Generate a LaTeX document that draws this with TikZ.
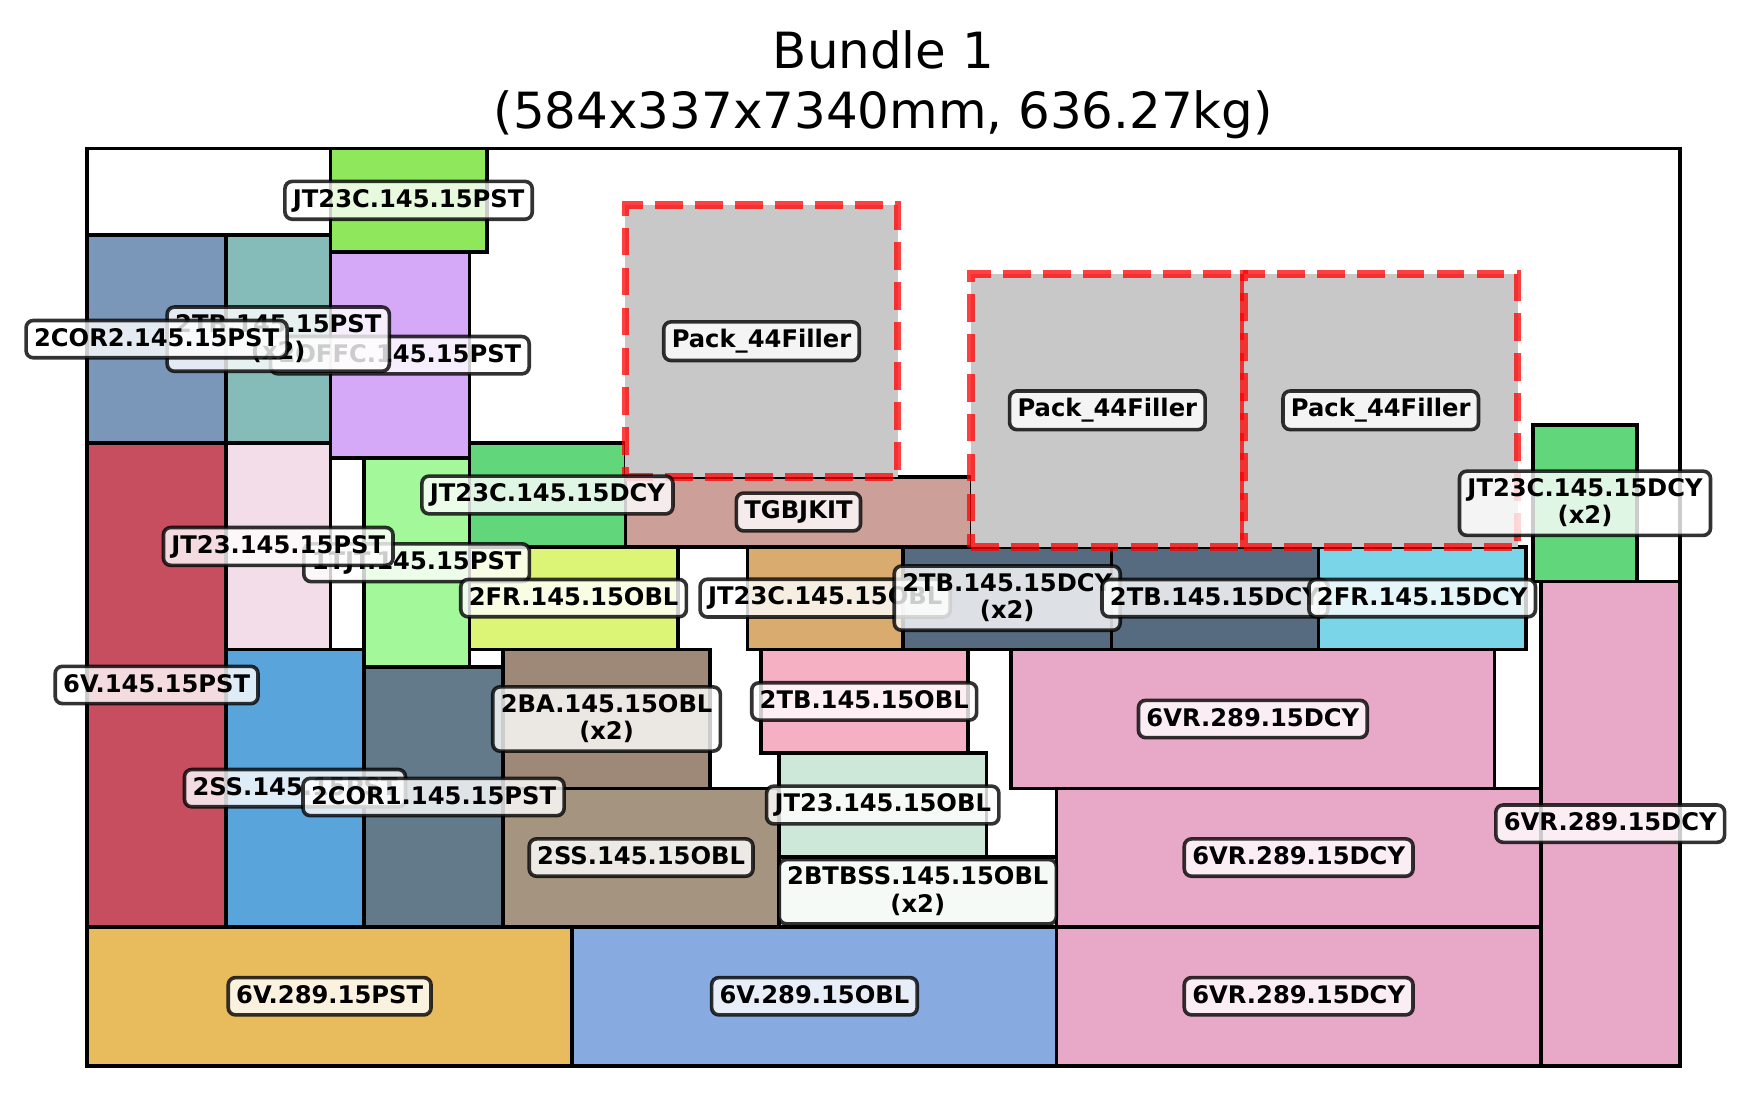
\documentclass[tikz,border=0pt]{standalone}
\usepackage{fontspec}
\setmainfont{DejaVu Sans}
\usepackage{xcolor}
\usepackage{tikz}
\usetikzlibrary{fit}
\definecolor{lime}{RGB}{143,232,92}
\definecolor{denim}{RGB}{122,150,185}
\definecolor{teal}{RGB}{133,187,184}
\definecolor{lavender}{RGB}{213,169,247}
\definecolor{crimson}{RGB}{198,78,95}
\definecolor{blush}{RGB}{242,221,232}
\definecolor{palegreen}{RGB}{163,248,154}
\definecolor{leaf}{RGB}{98,214,123}
\definecolor{rose}{RGB}{204,159,152}
\definecolor{lemon}{RGB}{220,245,118}
\definecolor{tan}{RGB}{217,171,111}
\definecolor{slate}{RGB}{86,107,128}
\definecolor{sky}{RGB}{122,213,232}
\definecolor{orchid}{RGB}{232,169,200}
\definecolor{azure}{RGB}{90,164,220}
\definecolor{steel}{RGB}{98,122,137}
\definecolor{cocoa}{RGB}{158,136,119}
\definecolor{taupe}{RGB}{165,148,128}
\definecolor{salmonpink}{RGB}{246,176,195}
\definecolor{mint}{RGB}{205,231,217}
\definecolor{amber}{RGB}{232,188,93}
\definecolor{cornflower}{RGB}{135,171,224}
\definecolor{fillgray}{RGB}{200,200,200}

\newcommand{\tagfont}{\fontsize{10}{11.3}\selectfont\bfseries\lineskiplimit=-\maxdimen}
\newcommand{\tagstrut}{\rule[-1.8pt]{0pt}{9.4pt}}

\begin{document}
\begin{tikzpicture}[
    x=0.039584cm, y=0.03951cm,
    % Box styles
    crate/.style={draw=black, line width=1.5pt, inner sep=0pt},
    filler/.style={fill=fillgray, draw=red, draw opacity=0.75, line width=3.2pt, dash pattern=on 11.5pt off 5pt, inner sep=0pt},
    frame/.style={draw=black, line width=1.5pt},
    % Label styles
    tag/.style={fill=white, fill opacity=0.8, text opacity=1, draw=black, draw opacity=0.8, line width=1.5pt, rounded corners=3pt, inner xsep=3.3pt, inner ysep=3pt, align=center, font=\tagfont, execute at begin node=\tagstrut, execute at end node=\tagstrut},
    heading/.style={font=\fontsize{20.6}{24}\selectfont, anchor=base, inner sep=0pt}
]
\useasboundingbox (-31.92,-11.07) rectangle (609.75,391.55);

% Title
\node[heading] (title) at (292,366.5) {Bundle 1};
\node[heading] (subtitle) at (292,344.4) {(584x337x7340mm, 636.27kg)};

% Top layer
\node[crate, fill=lime, fit={(89.2,298.9) (146.6,337)}] (jt23cpst) {};
\node[crate, fill=denim, fit={(0,228.7) (51,305.2)}] (cor2pst) {};
\node[crate, fill=teal, fit={(51,228.7) (89.2,305.2)}] (tbpst) {};
\node[crate, fill=lavender, fit={(89.2,223.2) (140.2,298.9)}] (offcpst) {};

% Left columns
\node[crate, fill=crimson, fit={(0,51.1) (51,228.7)}] (v6pst) {};
\node[crate, fill=blush, fit={(51,152.9) (89.2,228.7)}] (jt23pst) {};
\node[crate, fill=palegreen, fit={(101.5,146.4) (140.2,223.2)}] (tjtpst) {};
\node[crate, fill=azure, fit={(51,51.1) (101.5,152.9)}] (sspst) {};
\node[crate, fill=steel, fit={(101.5,51.1) (152.6,146.4)}] (cor1pst) {};

% Middle band
\node[crate, fill=leaf, fit={(140.2,190.7) (197.4,228.7)}] (jt23cdcy) {};
\node[crate, fill=rose, fit={(197.4,190.7) (324.3,216.2)}] (tgbjkit) {};
\node[crate, fill=lemon, fit={(140.2,152.9) (216.6,190.7)}] (fr2obl) {};
\node[crate, fill=tan, fit={(242.1,152.9) (299.2,190.7)}] (jt23cobl) {};
\node[crate, fill=slate, fit={(299.2,152.9) (375.6,190.7)}] (tbdcya) {};
\node[crate, fill=slate, fit={(375.6,152.9) (451.5,190.7)}] (tbdcyb) {};
\node[crate, fill=sky, fit={(451.5,152.9) (527.6,190.7)}] (frdcy) {};
\node[crate, fill=leaf, fit={(530.2,177.9) (568.3,235.4)}] (jt23cdcyb) {};

% Lower middle
\node[crate, fill=cocoa, fit={(152.6,101.9) (228.4,152.9)}] (baobl) {};
\node[crate, fill=taupe, fit={(152.6,51.1) (253.7,101.9)}] (ssobl) {};
\node[crate, fill=salmonpink, fit={(247,114.8) (322.9,152.9)}] (tbobl) {};
\node[crate, fill=mint, fit={(253.7,76.8) (329.8,114.8)}] (jt23obl) {};
\node[crate, fill=mint, fit={(253.7,51.1) (355.5,76.8)}] (btbss) {};

% Right side
\node[crate, fill=orchid, fit={(338.8,101.9) (516.1,152.9)}] (vrtop) {};
\node[crate, fill=orchid, fit={(355.5,51.1) (533,101.9)}] (vrmid) {};
\node[crate, fill=orchid, fit={(533,0) (584,177.9)}] (vrright) {};

% Bottom row
\node[crate, fill=amber, fit={(0,0) (177.9,51.1)}] (v289pst) {};
\node[crate, fill=cornflower, fit={(177.9,0) (355.5,51.1)}] (v289obl) {};
\node[crate, fill=orchid, fit={(355.5,0) (533,51.1)}] (vrbot) {};

% Fillers
\node[filler, fit={(197.4,216.2) (297.2,316.2)}] (fillA) {};
\node[filler, fit={(324,190.7) (424.2,290.9)}] (fillB) {};
\node[filler, fit={(424.2,190.7) (524.5,290.9)}] (fillC) {};

% Bundle outline
\draw[frame] (0,0) rectangle (584,337);

% Labels
\node[tag] (jt23cpstL) at (jt23cpst) {JT23C.145.15PST};
\node[tag] (offcpstL) at (offcpst) {2OFFC.145.15PST};
\node[tag] (tbpstL) at (tbpst) {2TB.145.15PST\\(x2)};
\node[tag] (cor2pstL) at (cor2pst) {2COR2.145.15PST};
\node[tag] (tjtpstL) at (tjtpst) {1TJT.145.15PST};
\node[tag] (jt23pstL) at (jt23pst) {JT23.145.15PST};
\node[tag] (jt23cdcyL) at (jt23cdcy) {JT23C.145.15DCY};
\node[tag] (fr2oblL) at (fr2obl) {2FR.145.15OBL};
\node[tag] (tgbjkitL) at (tgbjkit) {TGBJKIT};
\node[tag] (fillAL) at (fillA) {Pack\_44Filler};
\node[tag] (fillBL) at (fillB) {Pack\_44Filler};
\node[tag] (fillCL) at (fillC) {Pack\_44Filler};
\node[tag] (jt23coblL) at (jt23cobl) {JT23C.145.15OBL};
\node[tag] (tbdcyaL) at (tbdcya) {2TB.145.15DCY\\(x2)};
\node[tag] (tbdcybL) at (tbdcyb) {2TB.145.15DCY};
\node[tag] (frdcyL) at (frdcy) {2FR.145.15DCY};
\node[tag] (jt23cdcybL) at (jt23cdcyb) {JT23C.145.15DCY\\(x2)};
\node[tag] (v6pstL) at (v6pst) {6V.145.15PST};
\node[tag] (sspstL) at (sspst) {2SS.145.15PST};
\node[tag] (cor1pstL) at (cor1pst) {2COR1.145.15PST};
\node[tag] (boblL) at (baobl) {2BA.145.15OBL\\(x2)};
\node[tag] (tboblL) at (tbobl) {2TB.145.15OBL};
\node[tag] (vrtopL) at (vrtop) {6VR.289.15DCY};
\node[tag] (jt23oblL) at (jt23obl) {JT23.145.15OBL};
\node[tag] (ssoblL) at (ssobl) {2SS.145.15OBL};
\node[tag] (btbssL) at (btbss) {2BTBSS.145.15OBL\\(x2)};
\node[tag] (vrmidL) at (vrmid) {6VR.289.15DCY};
\node[tag] (vrrightL) at (vrright) {6VR.289.15DCY};
\node[tag] (v289pstL) at (v289pst) {6V.289.15PST};
\node[tag] (v289oblL) at (v289obl) {6V.289.15OBL};
\node[tag] (vrbotL) at (vrbot) {6VR.289.15DCY};

\end{tikzpicture}
\end{document}
